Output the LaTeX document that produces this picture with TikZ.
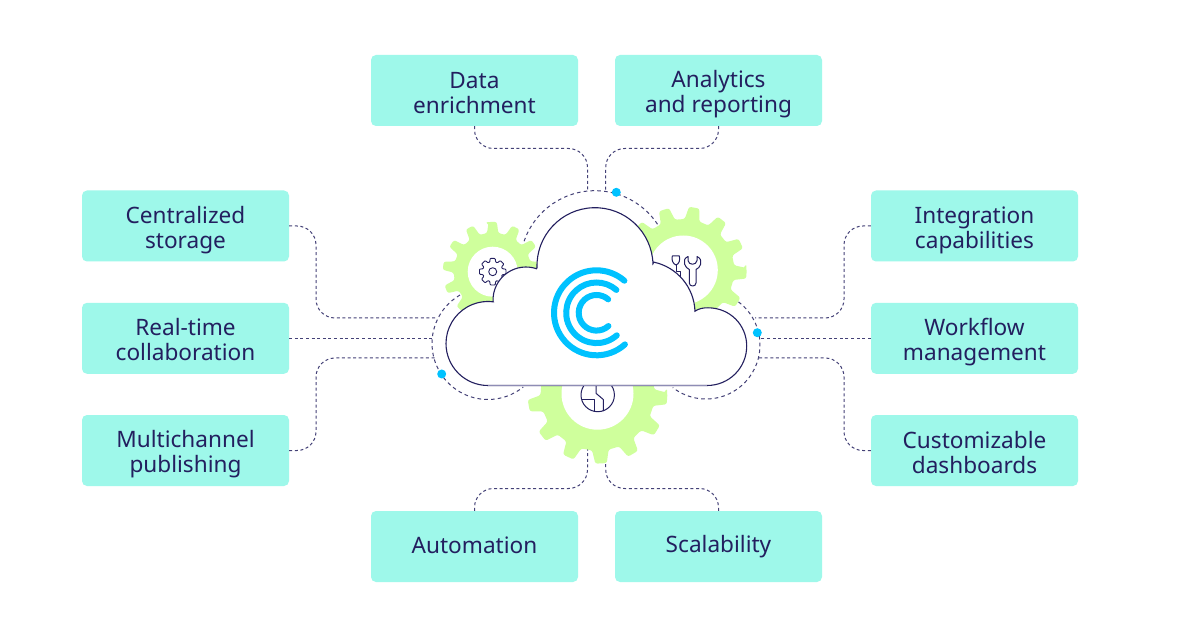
\documentclass[tikz,border=0pt]{standalone}
\usepackage{fontspec}
\usetikzlibrary{calc}
\setmainfont{Noto Sans}
\definecolor{boxc}{HTML}{9EF8EA}
\definecolor{ink}{HTML}{231F5F}
\definecolor{gearc}{HTML}{CFFF9C}
\definecolor{bluec}{HTML}{00C2FF}
\definecolor{edgec}{HTML}{8E8CB5}
\newcommand{\tla}{\rule{0pt}{25.4pt}}
\newcommand{\tlb}{\rule[-5pt]{0pt}{5pt}}
\newcommand{\tlc}{\rule[-5pt]{0pt}{23pt}}
\newcommand{\geargl}[6]{% cx cy root tip n offset
  \begin{scope}[shift={(#1,#2)}]
  \pgfmathsetmacro{\stp}{360/#5}
  \fill[gearc,rounded corners=2.2]
    (#6-0.30*\stp:#4) -- (#6+0.15*\stp:#4) -- (#6+0.30*\stp:#3)
    \foreach \i in {1,...,#5}{
      -- (#6+\i*\stp-0.30*\stp:#3) -- (#6+\i*\stp-0.17*\stp:#4) -- (#6+\i*\stp+0.17*\stp:#4) -- (#6+\i*\stp+0.30*\stp:#3)
    } -- cycle;
  \end{scope}}
\tikzset{
  x=1pt,y=-1pt,
  box/.style={fill=boxc,rounded corners=5,minimum width=207,minimum height=71,inner sep=0,align=center,text=ink,font=\fontsize{22.6}{25}\selectfont},
  conn/.style={draw=ink!85,line width=1,dash pattern=on 3 off 2.6,rounded corners=19},
  arcd/.style={draw=ink!85,line width=1,dash pattern=on 3.6 off 3.2},
  icon/.style={draw=ink,line width=1,line join=round},
  dot/.style={circle,fill=bluec,minimum size=9,inner sep=0},
  ring/.style={draw=bluec,line width=6,line cap=round}
}
\begin{document}
\begin{tikzpicture}
\useasboundingbox (0,0) rectangle (1200,628);
\fill[white] (0,0) rectangle (1200,628);
% boxes
\node[box] (data) at (474.5,90.5) {\tla Data\\enrichment\tlb};
\node[box] (anal) at (718.5,90.5) {\tla Analytics\\and reporting\tlb};
\node[box] (cent) at (185.5,226) {\tla Centralized\\storage\tlb};
\node[box] (real) at (185.5,338.3) {\tla Real-time\\collaboration\tlb};
\node[box] (mult) at (185.5,450.5) {\tla Multichannel\\publishing\tlb};
\node[box] (inte) at (974.5,226) {\tla Integration\\capabilities\tlb};
\node[box] (work) at (974.5,338.3) {\tla Workflow\\management\tlb};
\node[box] (cust) at (974.5,450.5) {\tla Customizable\\dashboards\tlb};
\node[box] (auto) at (474.5,546.5) {\tlc Automation};
\node[box] (scal) at (718.5,546.5) {\tlc Scalability};
% connector ends and bends
\coordinate (eL1) at (437,318); \coordinate (kL1) at (316,318);
\coordinate (eL2) at (432,338.3);
\coordinate (eL3) at (435,358); \coordinate (kL3) at (316,358);
\coordinate (eR1) at (755,318); \coordinate (kR1) at (844,318);
\coordinate (eR2) at (760,338.3);
\coordinate (eR3) at (758,358); \coordinate (kR3) at (844,358);
\coordinate (eT1) at (587.5,190.5); \coordinate (kT1) at (474.5,148.5); \coordinate (mT1) at (587.5,148.5);
\coordinate (eT2) at (605.7,191); \coordinate (kT2) at (718.5,148.5); \coordinate (mT2) at (605.7,148.5);
\coordinate (eB1) at (587.5,445); \coordinate (kB1) at (474.5,488.5); \coordinate (mB1) at (587.5,488.5);
\coordinate (eB2) at (605.7,445); \coordinate (kB2) at (718.5,488.5); \coordinate (mB2) at (605.7,488.5);
\draw[conn] (cent.east) -| (kL1) -- (eL1);
\draw[conn] (real.east) -- (eL2);
\draw[conn] (mult.east) -| (kL3) -- (eL3);
\draw[conn] (inte.west) -| (kR1) -- (eR1);
\draw[conn] (work.west) -- (eR2);
\draw[conn] (cust.west) -| (kR3) -- (eR3);
\draw[conn] (data.south) -- (kT1) -- (mT1) -- (eT1);
\draw[conn] (anal.south) -- (kT2) -- (mT2) -- (eT2);
\draw[conn] (auto.north) -- (kB1) -- (mB1) -- (eB1);
\draw[conn] (scal.north) -- (kB2) -- (mB2) -- (eB2);
% dashed arcs
\draw[arcd] (595,265.7) ++(199:75) arc[start angle=199,end angle=328,radius=75];
\draw[arcd] (488,343.5) ++(240:56) arc[start angle=240,end angle=51,radius=56];
\draw[arcd] (706,345) ++(-53:54) arc[start angle=-53,end angle=128,radius=54];
% gears
\geargl{492.7}{271.7}{39}{50}{13}{-90}
\geargl{683.3}{270}{51}{63.5}{13}{3}
\geargl{597.5}{393.7}{57}{70}{13}{4}
\fill[white] (492.7,271.7) circle[radius=25];
\fill[white] (683.3,270) circle[radius=34.5];
\fill[white] (597.5,393.7) circle[radius=36];
% left cog icon
\begin{scope}[shift={(492.7,271.7)}]
\draw[icon,line width=0.9] (0,0) circle[radius=4];
\draw[icon,line width=0.9,rounded corners=0.8]
  \foreach \a [count=\n] in {0,45,...,315}{
    \ifnum\n=1 (\a-11:13.5)\else -- (\a-11:13.5)\fi -- (\a+11:13.5) -- (\a+17:10) -- (\a+28:10)
  } -- cycle;
\end{scope}
% tools icon
\draw[icon] (672.3,256) -- (679.3,256) .. controls (680.5,260) and (679,264) .. (676,265) .. controls (673,264) and (671.2,260) .. (672.3,256) -- cycle;
\draw[icon] (676,265) -- (676,272) -- (680.7,272) -- (680.7,277);
\draw[icon] (688,256.5) .. controls (684.5,258) and (683.5,261) .. (684.5,264) .. controls (685.2,267) and (687.5,268.5) .. (689.3,269.5) -- (689.3,283) .. controls (689.3,287) and (696,287) .. (696,283) -- (696,269.5) .. controls (698,268.5) and (700.2,267) .. (700.7,264) .. controls (701.5,261) and (700.5,258) .. (697,256.5) -- (697,260.5) .. controls (696.5,265.5) and (688.5,265.5) .. (688,260.5) -- cycle;
% globe icon
\draw[icon] (597.7,395) circle[radius=16.7];
\draw[icon] (596,385) -- (596,393.3) -- (603.3,399.5) -- (603.3,411);
\draw[icon] (581.5,399) -- (594,399) -- (594,411);
% cloud
\coordinate (c2) at (526,300);
\coordinate (c3) at (595,265.7);
\coordinate (c4) at (643,313);
\draw[draw=ink,line width=1.1,fill=white,line join=miter] (488,385.5)
  arc[start angle=90,end angle=277,radius=42]
  -- ($(c2)+(177:33)$) arc[start angle=177,end angle=288.5,radius=33]
  -- ($(c3)+(178:58)$) arc[start angle=178,end angle=358,radius=58]
  -- ($(c4)+(282:52)$) arc[start angle=282,end angle=358,radius=52]
  .. controls (699,308.5) and (703,307.8) .. (708,307.8)
  .. controls (730,307.8) and (746.7,325) .. (746.7,346)
  .. controls (746.7,368) and (729,385.5) .. (707,385.5)
  -- cycle;
\draw[edgec,line width=1.6] (488,385.5) -- (707,385.5);
% logo
\draw[ring] (596.5,312.8) ++(48:42.5) arc[start angle=48,end angle=311,radius=42.5];
\draw[ring] (596.5,312.8) ++(48:30.3) arc[start angle=48,end angle=311,radius=30.3];
\draw[ring] (596.5,312.8) ++(48:17.8) arc[start angle=48,end angle=311,radius=17.8];
% dots
\node[dot] (d1) at (616.3,192.3) {};
\node[dot] (d2) at (757.3,332.7) {};
\node[dot] (d3) at (441.7,374) {};
\end{tikzpicture}
\end{document}
